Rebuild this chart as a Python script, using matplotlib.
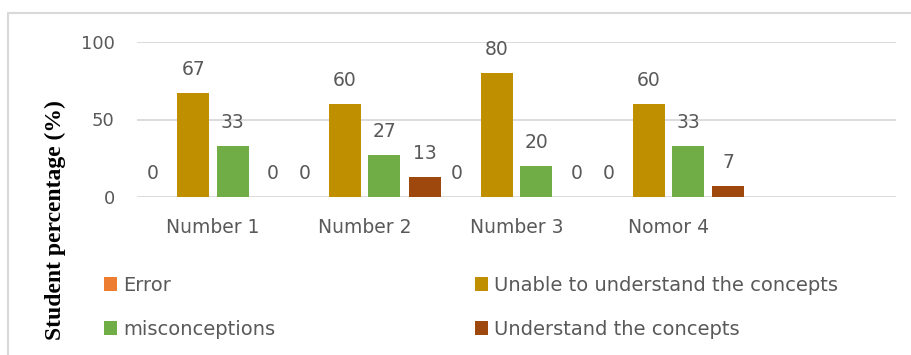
import matplotlib as mpl
mpl.use("Agg")
import matplotlib.pyplot as plt
from matplotlib.patches import Rectangle
import numpy as np

categories = ["Number 1", "Number 2", "Number 3", "Nomor 4", ""]
series_names = ["Error", "Unable to understand the concepts",
                "misconceptions", "Understand the concepts"]
error = [0, 0, 0, 0]
unable = [67, 60, 80, 60]
misconceptions = [33, 27, 20, 33]
understand = [0, 13, 0, 7]
colors = ["#ED7D31", "#BF8F00", "#70AD47", "#9E480E"]
yticks = [0, 50, 100]

plt.rcParams["font.family"] = "DejaVu Sans"
txt = "#595959"
grid = "#D9D9D9"

fig = plt.figure(figsize=(9.11, 3.55), dpi=100)
ax = fig.add_axes([137/911, 1-197/355, (896-137)/911, 155/355])

x = np.arange(len(unable))
offsets = [-0.395, -0.13, 0.13, 0.395]
width = 0.21
bars = []
for vals, off, c, name in zip([error, unable, misconceptions, understand], offsets, colors, series_names):
    b = ax.bar(x + off, vals, width, color=c, label=name, zorder=3)
    bars.append(b)
    for xi, v in zip(x + off, vals):
        ax.annotate(str(v), (xi, v), xytext=(0, 17), textcoords="offset points",
                    ha="center", va="center", fontsize=13.5, color=txt)

ax.set_xlim(-0.5, len(categories) - 0.5)
ax.set_ylim(0, 100)
ax.set_yticks(yticks)
ax.set_xticks(np.arange(len(categories)))
ax.set_xticklabels(categories)
ax.tick_params(axis="both", length=0, labelsize=13, colors=txt)
ax.tick_params(axis="x", pad=15, labelsize=13.5)
ax.tick_params(axis="y", pad=16)
for s in ax.spines.values():
    s.set_visible(False)
ax.yaxis.grid(True, color=grid, lw=1.3, zorder=0)
ax.set_axisbelow(True)

fig.text(55/911, 1-220/355, "Student percentage (%)", rotation=90,
         ha="center", va="center", fontsize=17, fontweight="bold",
         family="Liberation Serif", color="black")

order = [0, 2, 1, 3]
fig.legend([bars[i] for i in order], [series_names[i] for i in order],
           ncol=2, loc="upper left", bbox_to_anchor=(94/911, 1-266/355),
           frameon=False, fontsize=14, handlelength=0.67, handleheight=0.67,
           handletextpad=0.31, columnspacing=10.3, labelspacing=1.29,
           borderpad=0, labelcolor=txt)

fig.patches.append(Rectangle((8/911, -0.1), 1.0, 1.1 - 13/355, transform=fig.transFigure,
                             fill=False, edgecolor=grid, lw=1.5))

fig.savefig("out.png", dpi=100)
